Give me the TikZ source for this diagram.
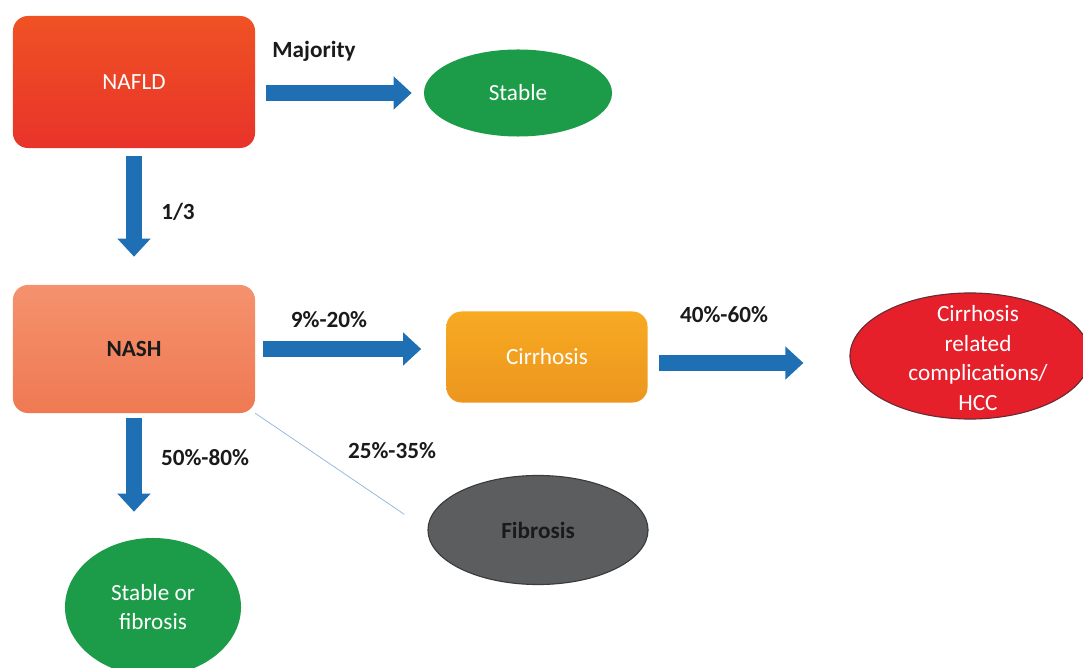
\documentclass[tikz,border=0pt]{standalone}
\usepackage{fontspec}
\setmainfont{Carlito}
\usetikzlibrary{shapes.geometric,arrows.meta}

\definecolor{nafldtop}{HTML}{EF5224}
\definecolor{nafldbot}{HTML}{E8332A}
\definecolor{nashtop}{HTML}{F4926D}
\definecolor{nashbot}{HTML}{EF7953}
\definecolor{cirrtop}{HTML}{F8AA22}
\definecolor{cirrbot}{HTML}{EC961E}
\definecolor{stablegreen}{HTML}{1C9B48}
\definecolor{fibgray}{HTML}{5B5D5F}
\definecolor{fibedge}{HTML}{3A3B3C}
\definecolor{hccred}{HTML}{E6202A}
\definecolor{hccedge}{HTML}{6B2A33}
\definecolor{flowblue}{HTML}{1F6FB5}
\definecolor{linkblue}{HTML}{8CB3DF}
\definecolor{lbltext}{HTML}{1A1A1A}

\begin{document}
\begin{tikzpicture}[x=0.025cm,y=-0.025cm,
  box/.style={rectangle,rounded corners=0.375cm,inner sep=0pt,font=\fontsize{16.5}{21}\selectfont},
  oval/.style={ellipse,inner sep=0pt,align=center,font=\fontsize{16.5}{21}\selectfont},
  flow/.style={draw=flowblue,line width=0.4cm,-{Triangle[width=0.8cm,length=0.45cm]}},
  link/.style={draw=linkblue,line width=0.5pt},
  lbl/.style={text=lbltext,font=\fontsize{16.5}{21}\selectfont\bfseries}]
\clip (0,0) rectangle (1083,668);

\node (nafld) [box,top color=nafldtop,bottom color=nafldbot,minimum width=6.05cm,minimum height=3.3cm,text=white] at (134,82) {NAFLD};
\node (stable) [oval,fill=stablegreen,minimum width=4.7cm,minimum height=2.175cm,text=white] at (518,93) {Stable};
\node (nash) [box,top color=nashtop,bottom color=nashbot,minimum width=6.05cm,minimum height=3.2cm,font=\fontsize{16.5}{21}\selectfont\bfseries,text=lbltext] at (134,349) {NASH};
\node (cirr) [box,top color=cirrtop,bottom color=cirrbot,minimum width=5.025cm,minimum height=2.275cm,text=white] at (547,357) {Cirrhosis};
\node (hcc) [oval,fill=hccred,draw=hccedge,line width=0.8pt,minimum width=6cm,minimum height=3.15cm] at (970,356) {};
\node (hcctext) [align=center,text=white,font=\fontsize{16.5}{21.3}\selectfont] at (978,358) {Cirrhosis\\related\\complications/\\HCC};
\node (fib) [oval,fill=fibgray,draw=fibedge,line width=0.8pt,minimum width=5.5cm,minimum height=2.725cm,font=\fontsize{16.5}{21}\selectfont\bfseries,text=lbltext] at (538,530) {Fibrosis};
\node (sof) [oval,fill=stablegreen,minimum width=4.4cm,minimum height=3.45cm,text=white] at (153,607) {Stable or\\fibrosis};

% arrows
\draw[flow,shorten <=0.275cm,shorten >=0.3cm] (nafld.east |- stable.west) -- (stable.west);
\draw[flow,shorten <=0.2cm,shorten >=0.7cm] (nafld.south) -- (nash.north);
\draw[flow,shorten <=0.2cm,shorten >=0.625cm] (nash.east) -- (nash.east -| cirr.west);
\draw[flow,shorten <=0.275cm,shorten >=1.15cm] ([yshift=-0.15cm]cirr.east) -- ([yshift=-0.15cm]cirr.east -| hcc.west);
\draw[flow,shorten <=0.125cm,shorten >=0.65cm] (nash.south) -- (nash.south |- sof.north);
\draw[link,shorten >=0.7cm] (nash.south east) -- (fib.west);

% labels
\node (lmaj) [lbl] at (314,51) {Majority};
\node (lthird) [lbl] at (178,212) {1/3};
\node (lcirr) [lbl] at (329,320) {9\%-20\%};
\node (lhcc) [lbl] at (724,315) {40\%-60\%};
\node (lsof) [lbl] at (205,458) {50\%-80\%};
\node (lfib) [lbl] at (392,451) {25\%-35\%};
\end{tikzpicture}
\end{document}
